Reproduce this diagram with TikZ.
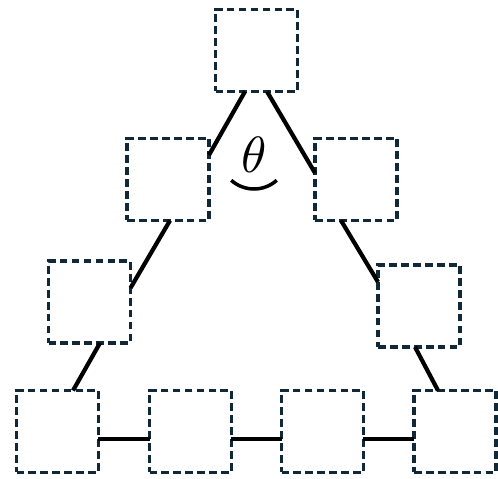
\documentclass[tikz,border=0pt]{standalone}
\usepackage{tikz}
\usetikzlibrary{positioning, calc}
\definecolor{DarkTeal}{RGB}{16, 40, 56}

\begin{document}
\begin{tikzpicture}[x=0.02cm, y=0.02cm,
    cell/.style={draw=DarkTeal, line width=2pt, dash pattern=on 4.4pt off 2.4pt,
                 minimum size=1.64cm, inner sep=0pt, outer sep=0pt},
    link/.style={line width=2.4pt, black}]
    \useasboundingbox (0,0) rectangle (498,478);

    % Apex and the two sides
    \node[cell] (top) at (256.5,427.5) {};
    \node[cell] (lu) at (168,298.5) {};
    \node[cell] (ru) at (356,298.5) {};
    \node[cell] (lm) at (89.5,176) {};
    \node[cell] (rm) at (419,172) {};

    % Base row
    \node[cell] (b1) at (57.5,46.5) {};
    \node[cell] (b2) at (190.5,46.5) {};
    \node[cell] (b3) at (322.5,46.5) {};
    \node[cell] (b4) at (455,46.5) {};

    % Angle
    \node[scale=2.9] (theta) at (254,323) {$\theta$};
    \draw[line width=2pt] (theta.center) ++(228:0.68cm) arc[start angle=228, end angle=312, radius=0.68cm];

    % Left side links
    \draw[link] ($(top.south)+(-11.5,0)$) -- ($(lu.east)+(0,24.5)$);
    \draw[link] ($(lu.south)+(2,0)$) -- ($(lm.east)+(0,14)$);
    \draw[link] ($(lm.south)+(10.5,0)$) -- ($(b1.north)+(15.5,0)$);

    % Right side links
    \draw[link] ($(top.south)+(10.5,0)$) -- ($(ru.west)+(0,6.5)$);
    \draw[link] ($(ru.south)+(-15,0)$) -- ($(rm.west)+(0,24)$);
    \draw[link] ($(rm.south)+(-4,0)$) -- ($(b4.north)+(-17,0)$);

    % Base links
    \draw[link] ($(b1.east)+(0,-7.5)$) -- ($(b2.west)+(0,-7.5)$);
    \draw[link] ($(b2.east)+(0,-7.5)$) -- ($(b3.west)+(0,-7.5)$);
    \draw[link] ($(b3.east)+(0,-7.5)$) -- ($(b4.west)+(0,-7.5)$);
\end{tikzpicture}
\end{document}
